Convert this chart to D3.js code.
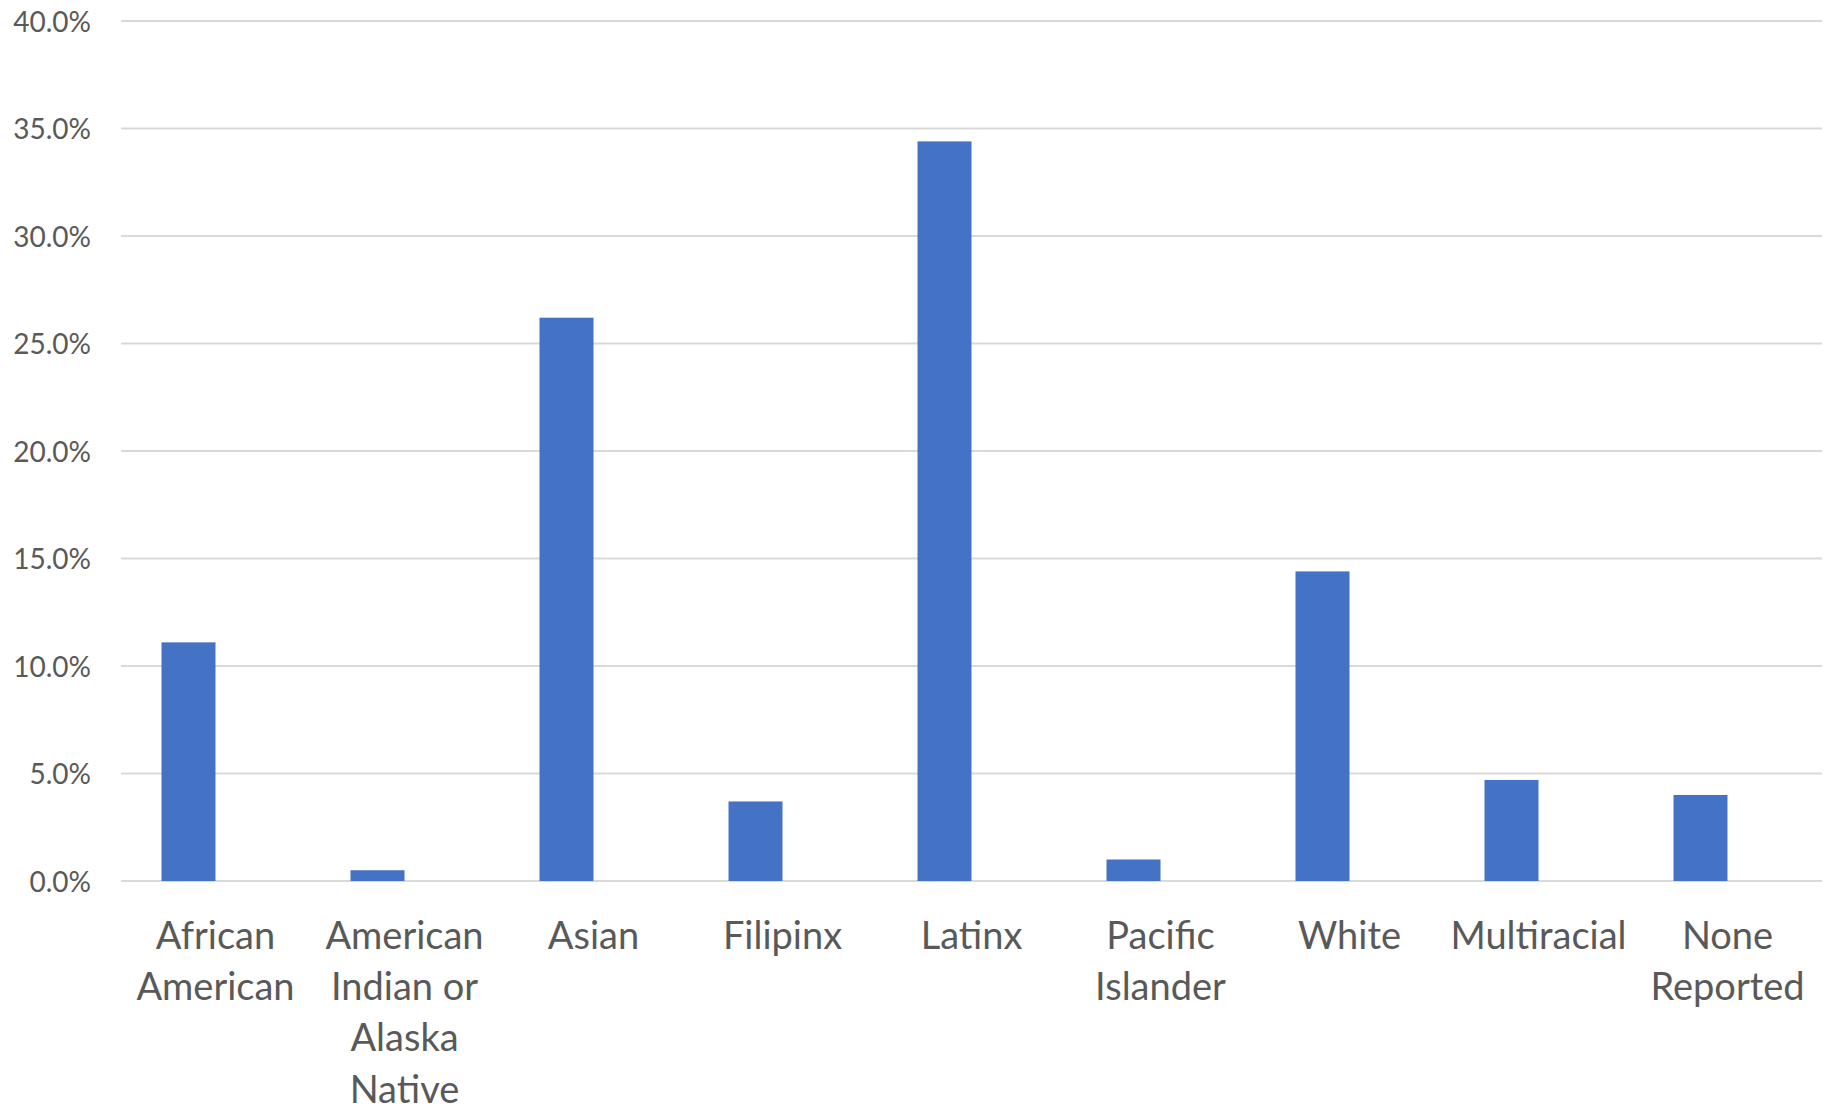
<!DOCTYPE html>
<html>
<head>
<meta charset="utf-8">
<script src="https://cdn.jsdelivr.net/npm/d3@7"></script>
<style>
  body { margin: 0; background: #fff; }
  text { font-family: Lato, "Open Sans", sans-serif; fill: #595959; }
</style>
</head>
<body>
<script>
const W = 1826;
const H = 1110;
const PLOT = { left: 121, right: 1822, top: 21, bottom: 881 };

// data
const categories = [
  "African\nAmerican",
  "American\nIndian or\nAlaska\nNative",
  "Asian",
  "Filipinx",
  "Latinx",
  "Pacific\nIslander",
  "White",
  "Multiracial",
  "None\nReported"
];
const values = [0.111, 0.005, 0.262, 0.037, 0.344, 0.010, 0.144, 0.047, 0.040];
const yTicks = [0, 0.05, 0.1, 0.15, 0.2, 0.25, 0.3, 0.35, 0.4];
// second (empty) series slot, like the clustered column layout of the original
const seriesSlots = ["value", "blank"];

const svg = d3.select("body")
  .append("svg")
  .attr("width", W)
  .attr("height", H);

const x = d3.scaleBand()
  .domain(categories)
  .range([PLOT.left, PLOT.right]);

const xInner = d3.scaleBand()
  .domain(seriesSlots)
  .range([0, x.bandwidth()])
  .paddingInner(0)
  .paddingOuter(0.75);

const y = d3.scaleLinear()
  .domain([0, 0.4])
  .range([PLOT.bottom, PLOT.top]);

// gridlines
svg.append("g")
  .attr("class", "grid")
  .selectAll("line")
  .data(yTicks)
  .enter()
  .append("line")
  .attr("x1", PLOT.left)
  .attr("x2", PLOT.right)
  .attr("y1", d => y(d))
  .attr("y2", d => y(d))
  .attr("stroke", "#d9d9d9")
  .attr("stroke-width", 2);

// y axis labels
const yAxis = svg.append("g")
  .attr("class", "yAxis")
  .attr("transform", "translate(" + (PLOT.left - 30) + ",0)")
  .call(d3.axisLeft(y).tickValues(yTicks).tickFormat(d3.format(".1%")).tickSize(0).tickPadding(0));
yAxis.select(".domain").remove();
yAxis.selectAll("text")
  .attr("font-size", 28)
  .attr("fill", "#595959")
  .attr("font-family", "Lato, 'Open Sans', sans-serif")
  .attr("dy", "0.36em");

// bars
svg.append("g")
  .attr("class", "bars")
  .selectAll("rect")
  .data(values)
  .enter()
  .append("rect")
  .attr("x", (_, i) => x(categories[i]) + xInner("value"))
  .attr("width", xInner.bandwidth())
  .attr("y", d => y(d))
  .attr("height", d => y(0) - y(d))
  .attr("fill", "#4472c4");

// category labels
const labels = svg.append("g")
  .attr("class", "xLabels")
  .selectAll("text")
  .data(categories)
  .enter()
  .append("text")
  .attr("text-anchor", "middle")
  .attr("font-size", 38)
  .attr("x", d => x(d) + x.bandwidth() / 2)
  .attr("y", 949);

labels.selectAll("tspan")
  .data(d => d.split("\n"))
  .enter()
  .append("tspan")
  .attr("x", function () { return this.parentNode.getAttribute("x"); })
  .attr("dy", (_, i) => (i === 0 ? 0 : 51.2))
  .text(d => d);
</script>
</body>
</html>
